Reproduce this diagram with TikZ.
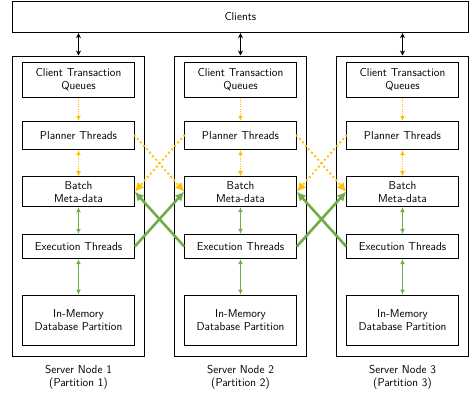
\documentclass[tikz,border=0pt]{standalone}
\usepackage{fontspec}
\usetikzlibrary{arrows.meta}
\definecolor{ogold}{RGB}{255,192,0}
\definecolor{ogreen}{RGB}{112,173,71}
\tikzset{
  txt/.style={font=\fontsize{11.5}{13}\sffamily, align=center},
  box/.style={draw=black, line width=1pt, txt, inner sep=0pt},
  ibox/.style={box, minimum width=111.6pt},
  outerbox/.style={draw=black, line width=1pt, minimum width=131.6pt, minimum height=300.7pt, inner sep=0pt},
  blkarr/.style={line width=1pt, {Stealth[length=5pt,width=5pt]}-{Stealth[length=5pt,width=5pt]}},
  odot/.style={draw=ogold, line width=0.9pt, dash pattern=on 1pt off 1.2pt},
  odotone/.style={odot, -{Latex[length=5pt,width=5pt]}},
  odottwo/.style={odot, {Latex[length=5pt,width=5pt]}-{Latex[length=5pt,width=5pt]}},
  ocross/.style={draw=ogold, line width=2.6pt, line cap=round, dash pattern=on 0pt off 4.6pt, -{Latex[length=9pt,width=9pt]}},
  gthin/.style={draw=ogreen, line width=1pt, {Latex[length=5pt,width=5pt]}-{Latex[length=5pt,width=5pt]}},
  gcross/.style={draw=ogreen, line width=2.6pt, -{Latex[length=9pt,width=9pt]}},
}
\begin{document}
\begin{tikzpicture}[x=1pt,y=-1pt]
\useasboundingbox (0,0) rectangle (469,394);
\node[box, minimum width=455.3pt, minimum height=31.7pt] (clients) at (240.35,16.85) {Clients};
\foreach \i/\cx in {1/78.5,2/240.5,3/402.5}{
  \node[outerbox] (srv\i) at (\cx,206.35) {};
  \node[ibox, minimum height=35pt] (ctq\i) at (\cx,79.5) {Client Transaction\\Queues};
  \node[ibox, minimum height=28.4pt] (pl\i) at (\cx,135.5) {Planner Threads};
  \node[ibox, minimum height=30pt] (bm\i) at (\cx,191.7) {Batch\\Meta-data};
  \node[ibox, minimum height=24.4pt] (ex\i) at (\cx,246.5) {Execution Threads};
  \node[ibox, minimum height=50.3pt] (mem\i) at (\cx,320.2) {In-Memory\\Database Partition};
  \node[txt] (lab\i) at (\cx,377) {Server Node \i\\(Partition \i)};
  \draw[blkarr] (clients.south -| srv\i.north) -- (srv\i.north);
  \draw[odotone] (ctq\i.south) -- (pl\i.north);
  \draw[odottwo] (pl\i.south) -- (bm\i.north);
  \draw[gthin] (bm\i.south) -- (ex\i.north);
  \draw[gthin] (ex\i.south) -- (mem\i.north);
}
\foreach \a/\b in {1/2,2/3}{
  \draw[ocross] (pl\a.east) -- (bm\b.west);
  \draw[ocross] (pl\b.west) -- (bm\a.east);
  \draw[gcross] (ex\a.east) -- (bm\b.west);
  \draw[gcross] (ex\b.west) -- (bm\a.east);
}
\end{tikzpicture}
\end{document}
